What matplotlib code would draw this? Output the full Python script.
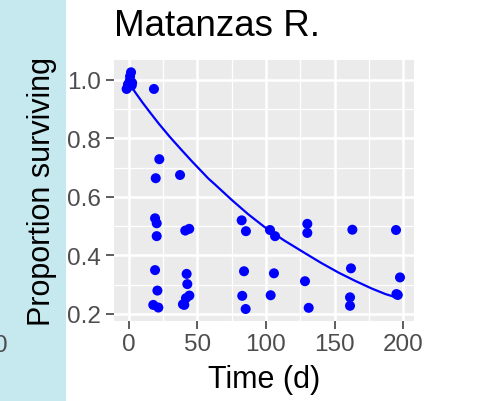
import numpy as np
import matplotlib.pyplot as plt
from matplotlib.ticker import MultipleLocator

plt.rcParams['font.family'] = ['Liberation Sans', 'DejaVu Sans']

# survival observations (days, proportion)
days = [1.7, -1.5, 0.9, 2.2, -0.5, 1.0, 2.5,
        18.4, 22.3, 19.7, 19.2, 20.4, 20.4, 19.2, 20.9, 17.9, 21.6,
        37.4, 41.2, 44.1, 42.2, 42.7, 44.2, 41.7, 40.5, 39.5,
        82.3, 85.4, 84.0, 82.7, 85.2,
        102.9, 106.6, 105.8, 103.4,
        130.1, 130.1, 128.4, 131.1,
        162.9, 161.9, 161.2, 161.2,
        194.7, 197.6, 196.0, 195.0]
surv = [1.026, 0.969, 0.998, 0.981, 0.985, 1.012, 0.990,
        0.969, 0.729, 0.664, 0.527, 0.510, 0.466, 0.350, 0.280, 0.231, 0.222,
        0.675, 0.485, 0.491, 0.337, 0.302, 0.263, 0.254, 0.231, 0.233,
        0.520, 0.483, 0.346, 0.262, 0.217,
        0.487, 0.466, 0.339, 0.264,
        0.508, 0.477, 0.312, 0.221,
        0.488, 0.356, 0.257, 0.228,
        0.487, 0.325, 0.265, 0.268]

# fitted decay curve
fit_t = [0, 5, 10, 16, 22, 30, 38, 46, 58, 63, 75, 87, 99, 113, 128, 140, 153, 165, 177, 187, 196]
fit_p = [0.990, 0.956, 0.923, 0.886, 0.850, 0.805, 0.763, 0.722, 0.663, 0.642,
         0.590, 0.541, 0.497, 0.452, 0.409, 0.375, 0.341, 0.313, 0.287, 0.268, 0.255]

W, H = 482, 402
dpi = 100
fig = plt.figure(figsize=(W / dpi, H / dpi), dpi=dpi)

# strip of the neighbouring panel on the left
fig.patches.append(plt.Rectangle((0, 0), 66 / W, 1, transform=fig.transFigure,
                                 facecolor='#c6e9ef', edgecolor='none', zorder=-5))
fig.text(8 / W, 1 - 346 / H, '0', ha='right', va='center', fontsize=17.5,
         color='#4d4d4d', zorder=-4)

ax = fig.add_axes([114 / W, 1 - 322 / H, 300 / W, 261 / H])
ax.set_facecolor('#ebebeb')
for s in ax.spines.values():
    s.set_visible(False)

ax.set_xlim(-10.7, 207.8)
ax.set_ylim(0.176, 1.068)
ax.xaxis.set_major_locator(MultipleLocator(50))
ax.xaxis.set_minor_locator(MultipleLocator(25))
ax.yaxis.set_minor_locator(MultipleLocator(0.1))
ax.set_yticks([0.2, 0.4, 0.6, 0.8, 1.0])
ax.set_yticklabels(['0.2', '0.4', '0.6', '0.8', '1.0'])

ax.grid(which='major', color='white', linewidth=1.8)
ax.grid(which='minor', color='white', linewidth=0.9)
ax.set_axisbelow(True)
ax.tick_params(which='major', length=5.8, width=1.1, color='#333333',
               labelsize=17.5, labelcolor='#4d4d4d', pad=3.5)
ax.tick_params(axis='x', pad=3)
ax.tick_params(which='minor', length=0)

ax.plot(fit_t, fit_p, color='#0000ff', linewidth=1.6, zorder=2)
ax.scatter(days, surv, s=52, color='#0000ff', edgecolors='none', zorder=3)

ax.set_xlabel('Time (d)', fontsize=22, labelpad=6)
ax.set_ylabel('Proportion surviving', fontsize=22, labelpad=7)
ax.set_title('Matanzas R.', fontsize=26.5, loc='left', pad=18)

fig.savefig('out.png', dpi=dpi)
